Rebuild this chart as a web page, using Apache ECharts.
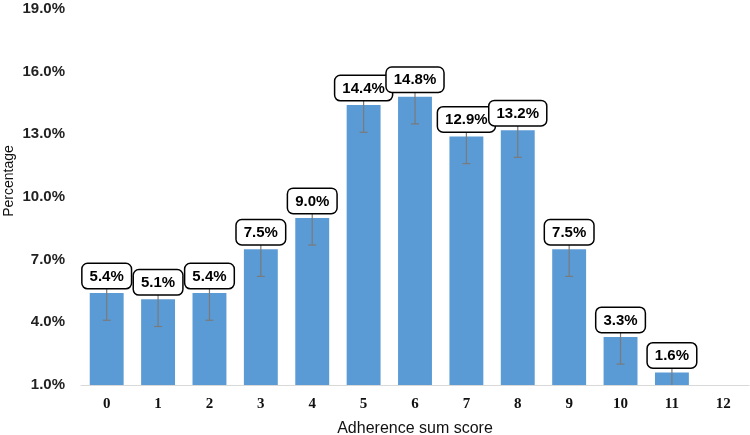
<!DOCTYPE html>
<html>
<head>
<meta charset="utf-8">
<script src="https://cdn.jsdelivr.net/npm/echarts@6/dist/echarts.min.js"></script>
<style>
  html, body { margin: 0; padding: 0; background: #fff; }
  #chart { width: 750px; height: 435px; }
</style>
</head>
<body>
<div id="chart"></div>
<script>
// adherence sum score categories
const scores = ['0', '1', '2', '3', '4', '5', '6', '7', '8', '9', '10', '11', '12']
// percentage of participants per score (12 has no bar)
const percentages = [5.4, 5.1, 5.4, 7.5, 9.0, 14.4, 14.8, 12.9, 13.2, 7.5, 3.3, 1.6, null]
// error bar half-lengths (percentage points)
const errors = [1.3, 1.3, 1.3, 1.3, 1.3, 1.3, 1.3, 1.3, 1.3, 1.3, 1.3, 1.3, null]
// y tick labels
const yTicks = [1, 4, 7, 10, 13, 16, 19]

const chart = echarts.init(document.getElementById('chart'))

const AXIS_MIN = 1

function renderErrorAndLabel(params, api) {
  const idx = api.value(0)
  const val = api.value(1)
  const err = api.value(2)
  if (val == null || isNaN(val)) return
  const top = api.coord([idx, val])
  const lo = api.coord([idx, Math.max(val - err, AXIS_MIN)])
  const hi = api.coord([idx, val + err])
  const x = top[0]
  const capHalf = 4
  const lineStyle = { stroke: '#7a7a7a', lineWidth: 1.2 }
  const children = [
    { type: 'line', shape: { x1: x, y1: hi[1], x2: x, y2: lo[1] }, style: lineStyle }
  ]
  // lower cap only when the bar is not clipped at the axis
  if (val - err >= AXIS_MIN) {
    children.push({ type: 'line', shape: { x1: x - capHalf, y1: lo[1], x2: x + capHalf, y2: lo[1] }, style: lineStyle })
  }
  // boxed value label sitting above the bar
  children.push({
    type: 'text',
    x: x,
    y: top[1] - 5,
    style: {
      text: val.toFixed(1) + '%',
      fill: '#000',
      font: 'bold 15px "Liberation Sans", Arial, sans-serif',
      align: 'center',
      verticalAlign: 'bottom',
      backgroundColor: '#fff',
      borderColor: '#000',
      borderWidth: 1.5,
      borderRadius: 5,
      padding: [5, 7, 4, 7]
    }
  })
  return { type: 'group', children: children }
}

chart.setOption({
  animation: false,
  grid: {
    left: 81,
    right: 1,
    top: 9,
    bottom: 50,
    outerBoundsMode: 'none'
  },
  xAxis: {
    type: 'category',
    data: scores,
    axisTick: { show: false },
    axisLine: { lineStyle: { color: '#d9d9d9', width: 1 } },
    axisLabel: {
      color: '#111',
      fontFamily: '"Liberation Serif", "Times New Roman", serif',
      fontWeight: 'bold',
      fontSize: 15,
      margin: 12
    },
    name: 'Adherence sum score',
    nameLocation: 'middle',
    nameGap: 36,
    nameTextStyle: {
      color: '#111',
      fontFamily: '"Liberation Sans", Arial, sans-serif',
      fontSize: 16
    }
  },
  yAxis: {
    type: 'value',
    min: AXIS_MIN,
    max: 19,
    splitLine: { show: false },
    axisLine: { show: false },
    axisTick: { show: false },
    axisLabel: {
      customValues: yTicks,
      formatter: v => v.toFixed(1) + '%',
      color: '#222',
      fontFamily: '"Liberation Sans", Arial, sans-serif',
      fontWeight: 'bold',
      fontSize: 15,
      margin: 16
    }
  },
  graphic: [{
    type: 'text',
    x: 2,
    y: 181,
    rotation: Math.PI / 2,
    style: {
      text: 'Percentage',
      fill: '#111',
      font: '14px "Liberation Sans", Arial, sans-serif',
      align: 'center',
      verticalAlign: 'top'
    }
  }],
  series: [
    {
      type: 'bar',
      data: percentages,
      barWidth: '66%',
      itemStyle: { color: '#5b9bd5' }
    },
    {
      type: 'custom',
      z: 5,
      data: percentages.map((v, i) => [i, v, errors[i]]),
      renderItem: renderErrorAndLabel
    }
  ]
})
</script>
</body>
</html>
